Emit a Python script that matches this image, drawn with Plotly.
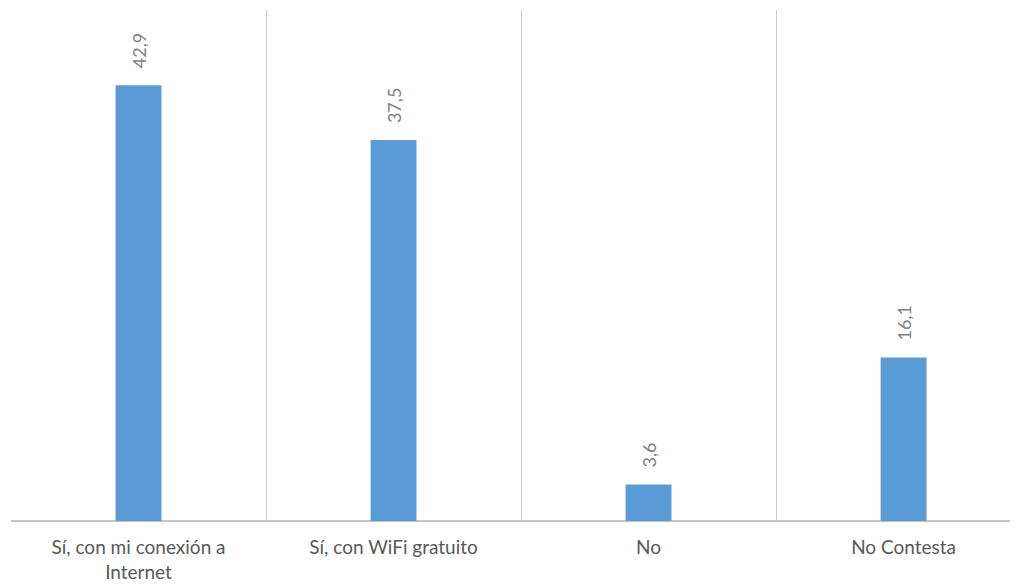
import plotly.graph_objects as go

categories = ["Sí, con mi conexión a<br>Internet", "Sí, con WiFi gratuito", "No", "No Contesta"]
values = [42.9, 37.5, 3.6, 16.1]
positions = [0, 1, 2, 3]
boundaries = [-0.5, 0.5, 1.5, 2.5, 3.5]

fig = go.Figure()
fig.add_trace(go.Bar(
    x=positions, y=values, width=0.18,
    marker=dict(color="#5B9BD5", line=dict(width=0)),
    hoverinfo="skip",
))

for p, v in zip(positions, values):
    fig.add_annotation(
        x=p, y=v, text=f"{v:.1f}".replace(".", ","), textangle=-90,
        showarrow=False, xanchor="center", yanchor="bottom", yshift=15,
        font=dict(size=18, color="#7F7F7F", family="Lato"),
    )

fig.update_layout(
    width=1018, height=585,
    margin=dict(l=3, r=0, t=2, b=72),
    paper_bgcolor="white", plot_bgcolor="white",
    showlegend=False,
    separators=",.",
    font=dict(family="Lato", size=19, color="#595959"),
    xaxis=dict(
        range=[-0.5, 3.480],
        tickmode="array", tickvals=positions, ticktext=categories,
        showgrid=False, zeroline=False,
        ticks="", showline=False,
        minor=dict(tickmode="array", tickvals=boundaries, showgrid=True,
                   gridcolor="#CCCCCC", gridwidth=1, ticks=""),
        tickfont=dict(size=19, color="#595959", family="Lato"),
        ticklabelstandoff=13,
    ),
    yaxis=dict(
        range=[0, 50.3], visible=True, showgrid=False, zeroline=True,
        zerolinecolor="#C4C4C4", zerolinewidth=1.5, showticklabels=False,
        ticks="",
    ),
)

fig.write_html("out.html")
